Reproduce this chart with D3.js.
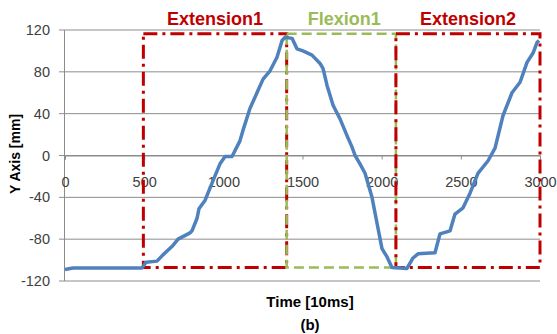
<!DOCTYPE html>
<html>
<head>
<meta charset="utf-8">
<script src="https://cdn.jsdelivr.net/npm/d3@7"></script>
<style>
  body { margin: 0; background: #fff; }
  svg { display: block; font-family: "Liberation Sans", Arial, sans-serif; }
</style>
</head>
<body>
<div id="viz"></div>
<script>
// data
let times = [0, 50, 486, 512, 581, 619, 682, 714, 790, 802, 834, 846, 884, 935, 979, 1011, 1055, 1105, 1124, 1168,
  1251, 1295, 1339, 1371, 1389, 1434, 1465, 1503, 1560, 1611, 1630, 1655, 1693, 1737, 1781, 1813, 1832, 1863, 1895,
  1939, 1971, 2002, 2034, 2065, 2160, 2198, 2230, 2337, 2368, 2432, 2463, 2514, 2558, 2608, 2672, 2716, 2766, 2823,
  2874, 2918, 2956, 2981, 2994]
let yPos = [-109, -107.5, -107.5, -102, -101, -95, -86, -80, -74, -72, -60, -51, -43, -24, -8, -1, -1, 14, 24, 45,
  73, 81, 94, 110, 113, 112, 102, 100, 96, 88, 83, 67, 48, 35, 19, 8, 0, -8, -17,
  -40, -65, -89, -97, -107, -108, -98, -94, -93, -75, -72, -56, -50, -36, -17, -5, 7, 38, 60,
  70, 89, 98, 108, 110]

let xTicks = [0, 500, 1000, 1500, 2000, 2500, 3000]
let yTicks = [-120, -80, -40, 0, 40, 80, 120]

// phase boxes: name, start, end, top, bottom
let phaseNames = ["Extension1", "Flexion1", "Extension2"]
let phaseStart = [495, 1400, 2090]
let phaseEnd = [1400, 2090, 3000]
let phaseTop = 116.5
let phaseBottom = -107

let width = 557, height = 334

let svg = d3.select("#viz")
  .append("svg")
    .attr("width", width)
    .attr("height", height)

let xScale = d3.scaleLinear().domain([0, 3000]).range([65, 540])
let yScale = d3.scaleLinear().domain([-120, 120]).range([281, 30])

// gridlines
svg.append("g")
  .selectAll("line")
  .data(yTicks)
  .join("line")
    .attr("x1", 59)
    .attr("x2", xScale(3000))
    .attr("y1", d => yScale(d))
    .attr("y2", d => yScale(d))
    .attr("stroke", "#8c8c8c")
    .attr("stroke-width", 1)

// y axis line
svg.append("line")
  .attr("x1", 64.5).attr("x2", 64.5)
  .attr("y1", yScale(120)).attr("y2", yScale(-120))
  .attr("stroke", "#8c8c8c")

// y labels
svg.append("g")
  .selectAll("text")
  .data(yTicks)
  .join("text")
    .attr("x", 50)
    .attr("y", d => yScale(d) + 5)
    .attr("text-anchor", "end")
    .attr("font-size", 14.5)
    .attr("fill", "#404040")
    .text(d => d)

// x axis at y = 0
let xAxis = d3.axisBottom(xScale)
  .tickValues(xTicks)
  .tickSize(4)
  .tickFormat(d => d)

let xg = svg.append("g")
  .attr("transform", `translate(0,${yScale(0)})`)
  .call(xAxis)
xg.select(".domain").attr("stroke", "#8c8c8c")
xg.selectAll(".tick line").attr("stroke", "#8c8c8c")
xg.selectAll(".tick text")
  .attr("font-size", 14.5)
  .attr("font-family", "Liberation Sans, Arial, sans-serif")
  .attr("fill", "#404040")
  .attr("dy", "1.7em")

// phase boxes
let boxColor = ["#c00000", "#9bbb59", "#c00000"]
let boxDash = ["14,5,3,5", "10,5", "14,5,3,5"]
let boxWidth = [3, 2.5, 3]

phaseNames.forEach((name, i) => {
  svg.append("rect")
    .attr("x", xScale(phaseStart[i]))
    .attr("y", yScale(phaseTop))
    .attr("width", xScale(phaseEnd[i]) - xScale(phaseStart[i]))
    .attr("height", yScale(phaseBottom) - yScale(phaseTop))
    .attr("fill", "none")
    .attr("stroke", boxColor[i])
    .attr("stroke-width", boxWidth[i])
    .attr("stroke-dasharray", boxDash[i])

  svg.append("text")
    .attr("x", (xScale(phaseStart[i]) + xScale(phaseEnd[i])) / 2 + (i == 1 ? 3 : 0))
    .attr("y", 25)
    .attr("text-anchor", "middle")
    .attr("font-size", 18)
    .attr("font-weight", "bold")
    .attr("fill", boxColor[i])
    .text(name)
})

// data line
let line = d3.line()
  .x((d, i) => xScale(times[i]))
  .y(d => yScale(d))

svg.append("path")
  .datum(yPos)
  .attr("d", line)
  .attr("fill", "none")
  .attr("stroke", "#4f81bd")
  .attr("stroke-width", 3.5)
  .attr("stroke-linejoin", "round")

// axis titles
svg.append("text")
  .attr("transform", "translate(20,154) rotate(-90)")
  .attr("text-anchor", "middle")
  .attr("font-size", 14)
  .attr("font-weight", "bold")
  .attr("fill", "#000")
  .text("Y Axis [mm]")

svg.append("text")
  .attr("x", 310)
  .attr("y", 307)
  .attr("text-anchor", "middle")
  .attr("font-size", 15)
  .attr("font-weight", "bold")
  .attr("fill", "#000")
  .text("Time [10ms]")

svg.append("text")
  .attr("x", 310)
  .attr("y", 330)
  .attr("text-anchor", "middle")
  .attr("font-size", 15)
  .attr("font-weight", "bold")
  .attr("fill", "#000")
  .text("(b)")
</script>
</body>
</html>
